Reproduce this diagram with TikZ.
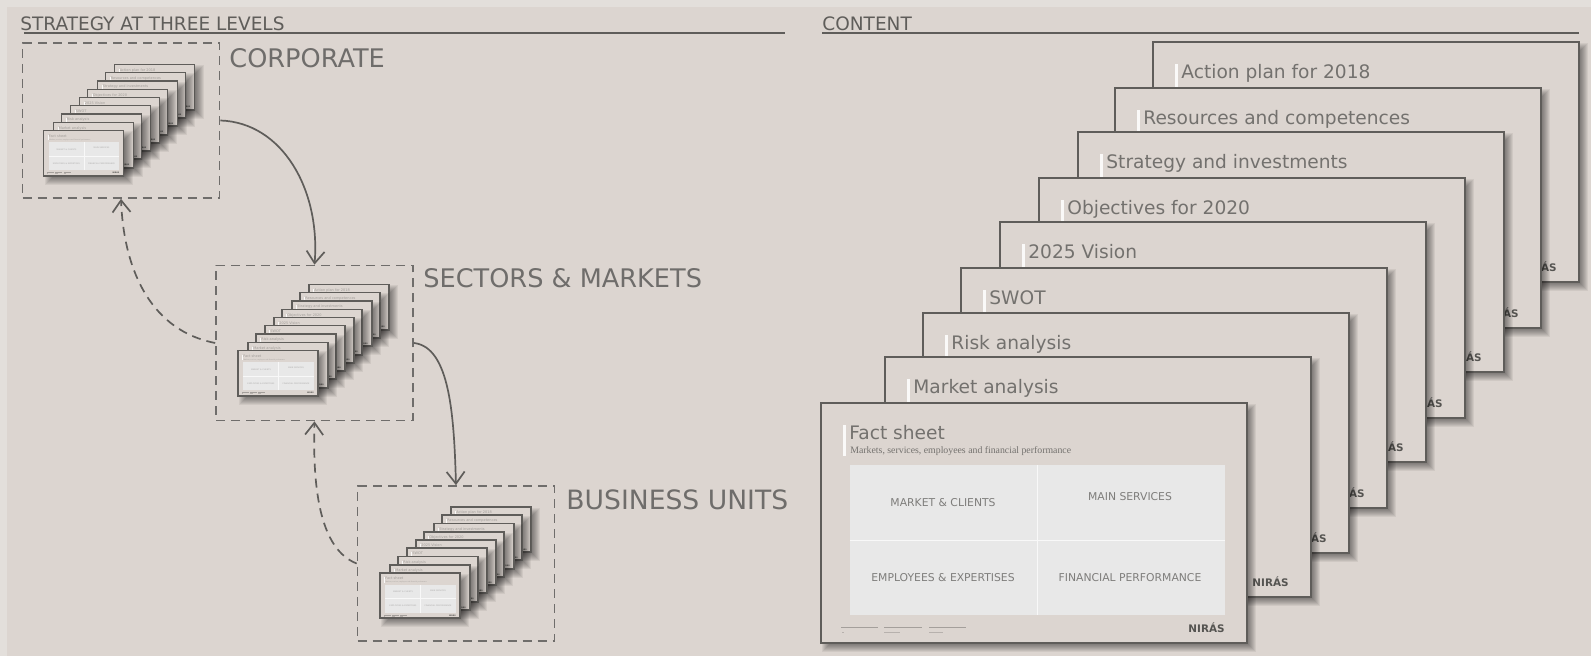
\documentclass[tikz,border=0pt]{standalone}
\usepackage{fontspec}
\setmainfont{DejaVu Sans}
\newfontfamily\subfont{Liberation Serif}
\usetikzlibrary{arrows.meta}

\definecolor{pagecol}{HTML}{DCD5D0}
\definecolor{edgecol}{HTML}{E3DFDB}
\definecolor{inkcol}{HTML}{5F5D5A}
\definecolor{titlecol}{HTML}{73716E}
\definecolor{gridcol}{HTML}{E8E8E8}
\definecolor{cellcol}{HTML}{7E7D7B}

\tikzset{
  headtext/.style={anchor=base west,inner sep=0pt,font=\fontsize{9.25}{9.25}\selectfont,text=inkcol},
  leveltext/.style={anchor=base west,inner sep=0pt,font=\fontsize{12.8}{12.8}\selectfont,text=inkcol!90},
  cardtext/.style={anchor=base west,inner sep=0pt,font=\fontsize{9.3}{9.3}\selectfont,text=titlecol},
  celltext/.style={inner sep=0pt,font=\fontsize{5.4}{5.4}\selectfont,text=cellcol},
  levelbox/.style={draw=inkcol!90,dash pattern=on 4.5pt off 3pt,line width=.85pt,minimum width=98.5pt,minimum height=77.5pt,inner sep=0pt},
  flow/.style={draw=inkcol,line width=.85pt,-{Straight Barb[length=6pt,width=9pt]}},
  backflow/.style={flow,dash pattern=on 4.5pt off 3pt}
}

% list of the slides behind the fact sheet
\newcommand{\biglist}{1153/42/Action plan for 2018,1115/88/Resources and competences,1078/132/Strategy and investments,1039/178/Objectives for 2020,1000/222/2025 Vision,961/268/SWOT,923/313/Risk analysis,885/357/Market analysis}
\newcommand{\minilist}{71/-66/Action plan for 2018,62/-58/Resources and competences,54/-49.5/Strategy and investments,44/-41/Objectives for 2020,36/-33/2025 Vision,27/-25/SWOT,18/-16.5/Risk analysis,10/-8/Market analysis}

% x, y, width, height of the card that casts it
\newcommand{\cardshadow}[4]{
  \foreach \s in {-4,...,4}
    \fill[black,opacity=.06] (#1+5-\s,#2+5-\s) rectangle (#1+#3+5+\s,#2+#4+5+\s);
}

% x, y, scale, title
\newcommand{\slidecard}[4]{
  \cardshadow{#1}{#2}{426*#3}{240*#3}
  \begin{scope}[shift={(#1,#2)},scale=#3,transform shape]
    \fill[pagecol] (0,0) rectangle (426,240);
    \fill[white!85!pagecol] (22,22) rectangle (25,53);
    \node[cardtext] (cardtitle) at (28,37) {#4};
    \node[inner sep=0pt,anchor=base east,font=\bfseries\fontsize{5.2}{5.2}\selectfont,text=inkcol!90!black] (cardlogo) at (404,230) {NIRÁS};
  \end{scope}
  \draw[inkcol,line width=.9pt] (#1,#2) rectangle (#1+426*#3,#2+240*#3);
}

% the front slide, x, y, scale
\newcommand{\factsheet}[3]{
  \slidecard{#1}{#2}{#3}{Fact sheet}
  \begin{scope}[shift={(#1,#2)},scale=#3,transform shape]
    \node[anchor=base west,inner sep=0pt,font=\subfont\fontsize{4.9}{4.9}\selectfont,text=titlecol] (cardsub) at (29,51) {Markets, services, employees and financial performance};
    \fill[gridcol] (29,62) rectangle (404,212);
    \draw[white!70!gridcol,line width=.4pt] (216.5,62) -- (216.5,212) (29,137) -- (404,137);
    \node[celltext] (cella) at (122,100) {MARKET \& CLIENTS};
    \node[celltext] (cellb) at (309,94) {MAIN SERVICES};
    \node[celltext] (cellc) at (122,175) {EMPLOYEES \& EXPERTISES};
    \node[celltext] (celld) at (309,175) {FINANCIAL PERFORMANCE};
    \foreach \a/\b in {20/57,63/101,108/145}
      \draw[inkcol!45!pagecol,line width=.4pt] (\a,224) -- (\b,224);
    \foreach \a/\b in {21/23,63/79,108/122}
      \draw[inkcol!30!pagecol,line width=.4pt] (\a,229) -- (\b,229);
  \end{scope}
}

% x, y of the front slide
\newcommand{\ministack}[2]{
  \begin{scope}
    \colorlet{titlecol}{titlecol!55!pagecol}
    \colorlet{cellcol}{cellcol!55!gridcol}
    \foreach \dx/\dy/\t in \minilist {
      \slidecard{#1+\dx}{#2+\dy}{.188}{\t}
    }
    \factsheet{#1}{#2}{.188}
  \end{scope}
}

\begin{document}
\begin{tikzpicture}[x=.5pt,y=-.5pt]
\useasboundingbox (0,0) rectangle (1591,656);
\fill[edgecol] (0,0) rectangle (1591,656);
\fill[pagecol] (7,7) rectangle (1591,656);

% left column
\node[headtext] (lefthead) at (20,31) {STRATEGY AT THREE LEVELS};
\coordinate (l1) at (24,33.5);
\coordinate (l2) at (785,33.5);
\draw[inkcol,line width=1pt] (l1) -- (l2);

\node[levelbox] (corporate) at (121,120.5) {};
\node[levelbox] (sectors) at (314.5,343) {};
\node[levelbox] (units) at (456,563.5) {};

\node[leveltext] (corporatelabel) at (229,68) {CORPORATE};
\node[leveltext] (sectorslabel) at (423,288) {SECTORS \& MARKETS};
\node[leveltext,font=\fontsize{13.3}{13.3}\selectfont] (unitslabel) at (566,510) {BUSINESS UNITS};

\ministack{43.5}{130.5}
\ministack{238}{350.5}
\ministack{380}{573}

\draw[flow] (corporate.east) .. controls +(62,2) and +(6,-75) .. (sectors.north);
\draw[flow] (sectors.east) .. controls +(36,4) and +(-2,-70) .. (units.north);
\draw[backflow] (sectors.west) .. controls +(-62,-12) and +(3,75) .. (corporate.south);
\draw[backflow] (units.west) .. controls +(-36,-14) and +(-2,70) .. (sectors.south);

% right column
\node[headtext] (righthead) at (822,31) {CONTENT};
\coordinate (r1) at (822,33.5);
\coordinate (r2) at (1579,33.5);
\draw[inkcol,line width=1pt] (r1) -- (r2);

\foreach \x/\y/\t in \biglist {
  \slidecard{\x}{\y}{1}{\t}
}
\factsheet{821}{403}{1}

\end{tikzpicture}
\end{document}
